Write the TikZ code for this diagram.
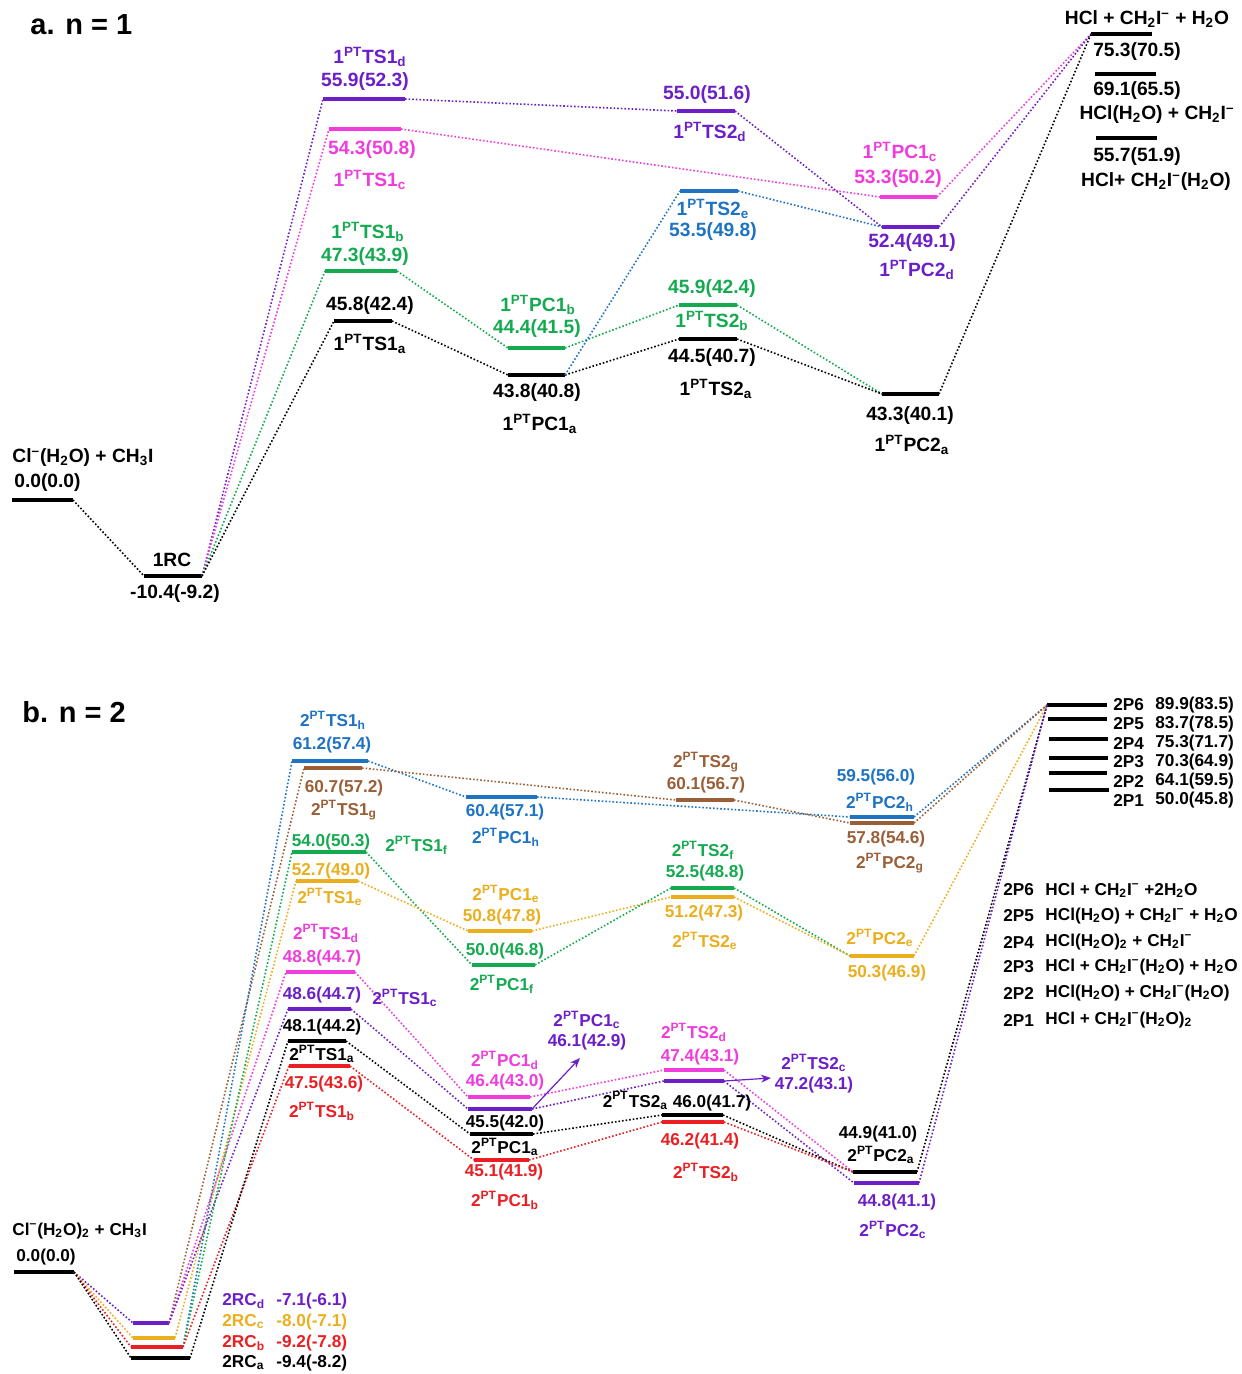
\documentclass[tikz,border=0pt]{standalone}
\usepackage{fontspec}
\setmainfont{Liberation Sans}
\usetikzlibrary{arrows.meta}
\definecolor{cpur}{RGB}{108,30,200}
\definecolor{cmag}{RGB}{240,60,220}
\definecolor{cgrn}{RGB}{20,170,80}
\definecolor{cblu}{RGB}{30,115,195}
\definecolor{cbrn}{RGB}{155,95,55}
\definecolor{cgld}{RGB}{235,175,30}
\definecolor{cred}{RGB}{235,30,35}
\newcommand{\ptl}[3]{#1\textsuperscript{PT}#2\textsubscript{#3}}
\newcommand{\mn}{\textsuperscript{–}}
\newcommand{\sbs}[1]{\textsubscript{#1}}
\newcommand{\lvl}[5]{\coordinate (#1-l) at (#2,#4); \coordinate (#1-r) at (#3,#4); \draw[bar,#5] (#1-l) -- (#1-r);}
\newcommand{\con}[3]{\draw[conn,#3] (#1-r) -- (#2-l);}
\tikzset{
 bar/.style={line width=2pt},
 conn/.style={line width=0.8pt, dash pattern=on 0.8pt off 1pt},
 la/.style={font=\fontsize{9.6}{10}\selectfont\bfseries, inner sep=0pt},
 lb/.style={font=\fontsize{8.6}{9}\selectfont\bfseries, inner sep=0pt},
 lc/.style={font=\fontsize{8.6}{9}\selectfont\bfseries, inner sep=0pt, anchor=west},
 ttl/.style={font=\fontsize{14.5}{16}\selectfont\bfseries, inner sep=0pt, anchor=west},
 arr/.style={line width=0.6pt, -{Stealth[length=5pt,width=4pt]}},
}
\begin{document}
\begin{tikzpicture}[x=0.5pt,y=-0.5pt]
\fill[white] (0,0) rectangle (1241,1374);
\useasboundingbox (0,0) rectangle (1241,1374);
% ================= part a =================
\node[ttl] (ta) at (30,25) {a. n = 1};
\lvl{a-r}{12}{73}{500}{black}
\lvl{a-rc}{144}{202}{576}{black}
\lvl{a-ts1d}{323}{405}{99}{cpur}
\lvl{a-ts1c}{329}{401}{129}{cmag}
\lvl{a-ts1b}{325}{397}{271}{cgrn}
\lvl{a-ts1a}{334}{392}{321}{black}
\lvl{a-pc1b}{508}{565}{348}{cgrn}
\lvl{a-pc1a}{508}{565}{375}{black}
\lvl{a-ts2d}{677}{735}{111}{cpur}
\lvl{a-ts2e}{680}{738}{191}{cblu}
\lvl{a-ts2b}{679}{737}{305}{cgrn}
\lvl{a-ts2a}{679}{737}{339}{black}
\lvl{a-pc1c}{880}{937}{197}{cmag}
\lvl{a-pc2d}{882}{939}{227}{cpur}
\lvl{a-pc2a}{882}{939}{394}{black}
\lvl{a-p1}{1091}{1152}{34}{black}
\lvl{a-p2}{1095}{1156}{74}{black}
\lvl{a-p3}{1096}{1157}{138}{black}
\con{a-r}{a-rc}{black}
\con{a-rc}{a-ts1d}{cpur}
\con{a-rc}{a-ts1c}{cmag}
\con{a-rc}{a-ts1b}{cgrn}
\con{a-rc}{a-ts1a}{black}
\con{a-ts1d}{a-ts2d}{cpur}
\con{a-ts1c}{a-pc1c}{cmag}
\con{a-ts1b}{a-pc1b}{cgrn}
\con{a-ts1a}{a-pc1a}{black}
\con{a-pc1b}{a-ts2b}{cgrn}
\con{a-pc1a}{a-ts2a}{black}
\con{a-pc1a}{a-ts2e}{cblu}
\con{a-ts2d}{a-pc2d}{cpur}
\con{a-ts2e}{a-pc2d}{cblu}
\con{a-ts2b}{a-pc2a}{cgrn}
\con{a-ts2a}{a-pc2a}{black}
\con{a-pc1c}{a-p1}{cmag}
\con{a-pc2d}{a-p1}{cpur}
\con{a-pc2a}{a-p1}{black}
% labels a
\node[la,anchor=west] (a-rn) at (12,458) {Cl\mn(H\sbs{2}O) + CH\sbs{3}I};
\node[la,anchor=west] (a-rv) at (14,483) {0.0(0.0)};
\node[la] (a-rcn) at (172,560) {1RC};
\node[la] (a-rcv) at (175,594) {-10.4(-9.2)};
\node[la,cpur] (a-ts1dn) at (370,57) {\ptl{1}{TS1}{d}};
\node[la,cpur] (a-ts1dv) at (365,82) {55.9(52.3)};
\node[la,cmag] (a-ts1cv) at (372,150) {54.3(50.8)};
\node[la,cmag] (a-ts1cn) at (370,180) {\ptl{1}{TS1}{c}};
\node[la,cgrn] (a-ts1bn) at (368,232) {\ptl{1}{TS1}{b}};
\node[la,cgrn] (a-ts1bv) at (365,257) {47.3(43.9)};
\node[la] (a-ts1av) at (370,306) {45.8(42.4)};
\node[la] (a-ts1an) at (370,344) {\ptl{1}{TS1}{a}};
\node[la,cgrn] (a-pc1bn) at (538,305) {\ptl{1}{PC1}{b}};
\node[la,cgrn] (a-pc1bv) at (537,329) {44.4(41.5)};
\node[la] (a-pc1av) at (537,393) {43.8(40.8)};
\node[la] (a-pc1an) at (540,424) {\ptl{1}{PC1}{a}};
\node[la,cpur] (a-ts2dv) at (707,95) {55.0(51.6)};
\node[la,cpur] (a-ts2dn) at (710,132) {\ptl{1}{TS2}{d}};
\node[la,cblu] (a-ts2en) at (713,209) {\ptl{1}{TS2}{e}};
\node[la,cblu] (a-ts2ev) at (713,232) {53.5(49.8)};
\node[la,cgrn] (a-ts2bv) at (712,289) {45.9(42.4)};
\node[la,cgrn] (a-ts2bn) at (712,321) {\ptl{1}{TS2}{b}};
\node[la] (a-ts2av) at (712,358) {44.5(40.7)};
\node[la] (a-ts2an) at (716,389) {\ptl{1}{TS2}{a}};
\node[la,cmag] (a-pc1cn) at (900,152) {\ptl{1}{PC1}{c}};
\node[la,cmag] (a-pc1cv) at (898,179) {53.3(50.2)};
\node[la,cpur] (a-pc2dv) at (912,243) {52.4(49.1)};
\node[la,cpur] (a-pc2dn) at (917,270) {\ptl{1}{PC2}{d}};
\node[la] (a-pc2av) at (910,416) {43.3(40.1)};
\node[la] (a-pc2an) at (912,445) {\ptl{1}{PC2}{a}};
\node[la] (a-p1n) at (1147,19) {HCl + CH\sbs{2}I\mn{} + H\sbs{2}O};
\node[la] (a-p1v) at (1137,52) {75.3(70.5)};
\node[la] (a-p2v) at (1137,91) {69.1(65.5)};
\node[la] (a-p2n) at (1157,115) {HCl(H\sbs{2}O) + CH\sbs{2}I\mn};
\node[la] (a-p3v) at (1137,157) {55.7(51.9)};
\node[la] (a-p3n) at (1156,182) {HCl+ CH\sbs{2}I\mn(H\sbs{2}O)};
% ================= part b =================
\node[ttl] (tb) at (22,712) {b. n = 2};
\lvl{b-r}{14}{74}{1272}{black}
\lvl{b-rcd}{133}{169}{1323}{cpur}
\lvl{b-rcc}{133}{175}{1338}{cgld}
\lvl{b-rcb}{131}{183}{1347}{cred}
\lvl{b-rca}{131}{190}{1358}{black}
\lvl{b-ts1h}{292}{368}{761}{cblu}
\lvl{b-ts1g}{304}{362}{768}{cbrn}
\lvl{b-ts1f}{292}{366}{852}{cgrn}
\lvl{b-ts1e}{296}{358}{881}{cgld}
\lvl{b-ts1d}{286}{355}{972}{cmag}
\lvl{b-ts1c}{288}{351}{1009}{cpur}
\lvl{b-ts1a}{288}{346}{1041}{black}
\lvl{b-ts1b}{289}{350}{1066}{cred}
\lvl{b-pc1h}{466}{537}{797}{cblu}
\lvl{b-pc1e}{468}{532}{931}{cgld}
\lvl{b-pc1f}{472}{535}{965}{cgrn}
\lvl{b-pc1d}{468}{530}{1097}{cmag}
\lvl{b-pc1c}{468}{532}{1109}{cpur}
\lvl{b-pc1a}{470}{533}{1134}{black}
\lvl{b-pc1b}{474}{529}{1160}{cred}
\lvl{b-ts2g}{676}{734}{800}{cbrn}
\lvl{b-ts2f}{671}{734}{888}{cgrn}
\lvl{b-ts2e}{671}{734}{897}{cgld}
\lvl{b-ts2d}{664}{724}{1070}{cmag}
\lvl{b-ts2c}{664}{724}{1081}{cpur}
\lvl{b-ts2a}{662}{723}{1115}{black}
\lvl{b-ts2b}{662}{724}{1122}{cred}
\lvl{b-pc2h}{850}{914}{817}{cblu}
\lvl{b-pc2g}{850}{914}{823}{cbrn}
\lvl{b-pc2e}{850}{914}{956}{cgld}
\lvl{b-pc2a}{853}{917}{1172}{black}
\lvl{b-pc2c}{854}{919}{1183}{cpur}
\lvl{b-p6}{1047}{1107}{705}{black}
\lvl{b-p5}{1048}{1107}{719}{black}
\lvl{b-p4}{1049}{1108}{739}{black}
\lvl{b-p3}{1049}{1108}{758}{black}
\lvl{b-p2}{1049}{1107}{773}{black}
\lvl{b-p1}{1049}{1109}{790}{black}
% connectors b
\con{b-r}{b-rcd}{cpur}
\con{b-r}{b-rcc}{cgld}
\con{b-r}{b-rcb}{cred}
\con{b-r}{b-rca}{black}
\con{b-rcd}{b-ts1g}{cbrn}
\con{b-rcd}{b-ts1d}{cmag}
\con{b-rcd}{b-ts1c}{cpur}
\con{b-rcc}{b-ts1e}{cgld}
\con{b-rcb}{b-ts1h}{cblu}
\con{b-rcb}{b-ts1f}{cgrn}
\con{b-rcb}{b-ts1b}{cred}
\con{b-rca}{b-ts1a}{black}
\con{b-ts1h}{b-pc1h}{cblu}
\con{b-ts1g}{b-ts2g}{cbrn}
\con{b-ts1f}{b-pc1f}{cgrn}
\con{b-ts1e}{b-pc1e}{cgld}
\con{b-ts1d}{b-pc1d}{cmag}
\con{b-ts1c}{b-pc1c}{cpur}
\con{b-ts1a}{b-pc1a}{black}
\con{b-ts1b}{b-pc1b}{cred}
\con{b-pc1h}{b-pc2h}{cblu}
\con{b-pc1e}{b-ts2e}{cgld}
\con{b-pc1f}{b-ts2f}{cgrn}
\con{b-pc1d}{b-ts2d}{cmag}
\con{b-pc1c}{b-ts2c}{cpur}
\con{b-pc1a}{b-ts2a}{black}
\con{b-pc1b}{b-ts2b}{cred}
\con{b-ts2g}{b-pc2g}{cbrn}
\con{b-ts2f}{b-pc2e}{cgrn}
\con{b-ts2e}{b-pc2e}{cgld}
\con{b-ts2d}{b-pc2a}{cmag}
\con{b-ts2c}{b-pc2c}{cpur}
\con{b-ts2a}{b-pc2a}{black}
\con{b-ts2b}{b-pc2a}{cred}
\con{b-pc2h}{b-p6}{cblu}
\con{b-pc2g}{b-p6}{cbrn}
\con{b-pc2e}{b-p6}{cgld}
\con{b-pc2a}{b-p6}{black}
\con{b-pc2c}{b-p6}{cpur}
% arrows
\coordinate (b-arr1) at (580,1058);
\coordinate (b-arr2) at (771,1078);
\draw[arr,cpur] (b-pc1c-r) -- (b-arr1);
\draw[arr,cpur] (b-ts2c-r) -- (b-arr2);
% labels b
\node[lb,anchor=west] (b-rn) at (12,1231) {Cl\mn(H\sbs{2}O)\sbs{2} + CH\sbs{3}I};
\node[lb,anchor=west] (b-rv) at (16,1257) {0.0(0.0)};
\node[lb,anchor=west,cpur] (b-rcdn) at (222,1301) {2RC\sbs{d}};
\node[lb,anchor=west,cpur] (b-rcdv) at (276,1301) {-7.1(-6.1)};
\node[lb,anchor=west,cgld] (b-rccn) at (222,1322) {2RC\sbs{c}};
\node[lb,anchor=west,cgld] (b-rccv) at (276,1322) {-8.0(-7.1)};
\node[lb,anchor=west,cred] (b-rcbn) at (222,1343) {2RC\sbs{b}};
\node[lb,anchor=west,cred] (b-rcbv) at (276,1343) {-9.2(-7.8)};
\node[lb,anchor=west] (b-rcan) at (222,1363) {2RC\sbs{a}};
\node[lb,anchor=west] (b-rcav) at (276,1363) {-9.4(-8.2)};
\node[lb,cblu] (b-ts1hn) at (333,720) {\ptl{2}{TS1}{h}};
\node[lb,cblu] (b-ts1hv) at (332,745) {61.2(57.4)};
\node[lb,cbrn] (b-ts1gv) at (344,788) {60.7(57.2)};
\node[lb,cbrn] (b-ts1gn) at (344,810) {\ptl{2}{TS1}{g}};
\node[lb,cgrn] (b-ts1fv) at (331,842) {54.0(50.3)};
\node[lb,cgrn,anchor=west] (b-ts1fn) at (385,845) {\ptl{2}{TS1}{f}};
\node[lb,cgld] (b-ts1ev) at (331,871) {52.7(49.0)};
\node[lb,cgld] (b-ts1en) at (330,897) {\ptl{2}{TS1}{e}};
\node[lb,cmag] (b-ts1dn) at (326,933) {\ptl{2}{TS1}{d}};
\node[lb,cmag] (b-ts1dv) at (322,958) {48.8(44.7)};
\node[lb,cpur] (b-ts1cv) at (322,995) {48.6(44.7)};
\node[lb,cpur,anchor=west] (b-ts1cn) at (372,998) {\ptl{2}{TS1}{c}};
\node[lb] (b-ts1av) at (322,1027) {48.1(44.2)};
\node[lb] (b-ts1an) at (322,1054) {\ptl{2}{TS1}{a}};
\node[lb,cred] (b-ts1bv) at (324,1084) {47.5(43.6)};
\node[lb,cred] (b-ts1bn) at (322,1111) {\ptl{2}{TS1}{b}};
\node[lb,cblu] (b-pc1hv) at (505,812) {60.4(57.1)};
\node[lb,cblu] (b-pc1hn) at (506,837) {\ptl{2}{PC1}{h}};
\node[lb,cgld] (b-pc1en) at (506,894) {\ptl{2}{PC1}{e}};
\node[lb,cgld] (b-pc1ev) at (502,917) {50.8(47.8)};
\node[lb,cgrn] (b-pc1fv) at (505,951) {50.0(46.8)};
\node[lb,cgrn] (b-pc1fn) at (502,984) {\ptl{2}{PC1}{f}};
\node[lb,cmag] (b-pc1dn) at (505,1060) {\ptl{2}{PC1}{d}};
\node[lb,cmag] (b-pc1dv) at (505,1082) {46.4(43.0)};
\node[lb,cpur] (b-pc1cn) at (587,1020) {\ptl{2}{PC1}{c}};
\node[lb,cpur] (b-pc1cv) at (587,1042) {46.1(42.9)};
\node[lb] (b-pc1av) at (505,1123) {45.5(42.0)};
\node[lb] (b-pc1an) at (505,1147) {\ptl{2}{PC1}{a}};
\node[lb,cred] (b-pc1bv) at (504,1172) {45.1(41.9)};
\node[lb,cred] (b-pc1bn) at (505,1200) {\ptl{2}{PC1}{b}};
\node[lb,cbrn] (b-ts2gn) at (706,762) {\ptl{2}{TS2}{g}};
\node[lb,cbrn] (b-ts2gv) at (706,785) {60.1(56.7)};
\node[lb,cgrn] (b-ts2fn) at (703,850) {\ptl{2}{TS2}{f}};
\node[lb,cgrn] (b-ts2fv) at (705,873) {52.5(48.8)};
\node[lb,cgld] (b-ts2ev) at (704,913) {51.2(47.3)};
\node[lb,cgld] (b-ts2en) at (705,941) {\ptl{2}{TS2}{e}};
\node[lb,cmag] (b-ts2dn) at (694,1032) {\ptl{2}{TS2}{d}};
\node[lb,cmag] (b-ts2dv) at (700,1057) {47.4(43.1)};
\node[lb,cpur] (b-ts2cn) at (814,1063) {\ptl{2}{TS2}{c}};
\node[lb,cpur] (b-ts2cv) at (814,1085) {47.2(43.1)};
\node[lb] (b-ts2an) at (677,1101) {\ptl{2}{TS2}{a} 46.0(41.7)};
\node[lb,cred] (b-ts2bv) at (700,1141) {46.2(41.4)};
\node[lb,cred] (b-ts2bn) at (706,1172) {\ptl{2}{TS2}{b}};
\node[lb,cblu] (b-pc2hv) at (876,777) {59.5(56.0)};
\node[lb,cblu] (b-pc2hn) at (880,802) {\ptl{2}{PC2}{h}};
\node[lb,cbrn] (b-pc2gv) at (886,839) {57.8(54.6)};
\node[lb,cbrn] (b-pc2gn) at (890,863) {\ptl{2}{PC2}{g}};
\node[lb,cgld] (b-pc2en) at (880,938) {\ptl{2}{PC2}{e}};
\node[lb,cgld] (b-pc2ev) at (887,973) {50.3(46.9)};
\node[lb] (b-pc2av) at (878,1134) {44.9(41.0)};
\node[lb] (b-pc2an) at (881,1155) {\ptl{2}{PC2}{a}};
\node[lb,cpur] (b-pc2cv) at (897,1202) {44.8(41.1)};
\node[lb,cpur] (b-pc2cn) at (893,1230) {\ptl{2}{PC2}{c}};
% product levels labels
\node[lc] (b-p6n) at (1113,705) {2P6};
\node[lc] (b-p6v) at (1155,705) {89.9(83.5)};
\node[lc] (b-p5n) at (1113,724) {2P5};
\node[lc] (b-p5v) at (1155,724) {83.7(78.5)};
\node[lc] (b-p4n) at (1113,743) {2P4};
\node[lc] (b-p4v) at (1155,743) {75.3(71.7)};
\node[lc] (b-p3n) at (1113,762) {2P3};
\node[lc] (b-p3v) at (1155,762) {70.3(64.9)};
\node[lc] (b-p2n) at (1113,781) {2P2};
\node[lc] (b-p2v) at (1155,781) {64.1(59.5)};
\node[lc] (b-p1n) at (1113,800) {2P1};
\node[lc] (b-p1v) at (1155,800) {50.0(45.8)};
% legend
\node[lc] (g6n) at (1003,890) {2P6};
\node[lc] (g6t) at (1045,890) {HCl + CH\sbs{2}I\mn{} +2H\sbs{2}O};
\node[lc] (g5n) at (1003,916) {2P5};
\node[lc] (g5t) at (1045,916) {HCl(H\sbs{2}O) + CH\sbs{2}I\mn{} + H\sbs{2}O};
\node[lc] (g4n) at (1003,942) {2P4};
\node[lc] (g4t) at (1045,942) {HCl(H\sbs{2}O)\sbs{2} + CH\sbs{2}I\mn};
\node[lc] (g3n) at (1003,967) {2P3};
\node[lc] (g3t) at (1045,967) {HCl + CH\sbs{2}I\mn(H\sbs{2}O) + H\sbs{2}O};
\node[lc] (g2n) at (1003,993) {2P2};
\node[lc] (g2t) at (1045,993) {HCl(H\sbs{2}O) + CH\sbs{2}I\mn(H\sbs{2}O)};
\node[lc] (g1n) at (1003,1020) {2P1};
\node[lc] (g1t) at (1045,1020) {HCl + CH\sbs{2}I\mn(H\sbs{2}O)\sbs{2}};
\end{tikzpicture}
\end{document}
